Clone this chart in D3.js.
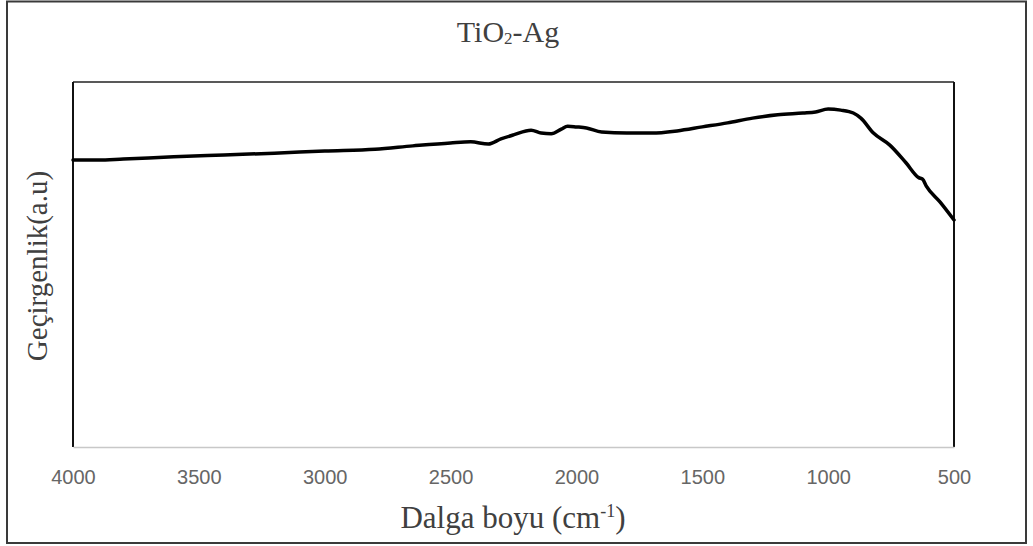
<!DOCTYPE html>
<html>
<head>
<meta charset="utf-8">
<script src="https://cdn.jsdelivr.net/npm/d3@7"></script>
<style>
  html, body { margin: 0; padding: 0; background: #fff; }
  svg { display: block; }
</style>
</head>
<body>
<svg id="chart" width="1033" height="546"></svg>
<script>
// ---- data ----
const wavenumbers = [4000, 3900, 3800, 3700, 3600, 3400, 3200, 3000, 2800, 2650, 2500, 2420, 2350, 2300, 2250, 2180, 2140, 2100, 2060, 2035, 2000, 1960, 1900, 1800, 1700, 1600, 1500, 1400, 1300, 1200, 1100, 1050, 1000, 950, 900, 870, 820, 755, 690, 640, 625, 610, 555, 500];
const transmittance = [78.6, 78.6, 78.9, 79.2, 79.5, 80.0, 80.5, 81.1, 81.6, 82.5, 83.3, 83.6, 83.0, 84.4, 85.5, 86.8, 86.0, 85.8, 87.1, 87.9, 87.7, 87.4, 86.3, 86.0, 86.0, 86.6, 87.7, 88.8, 90.1, 91.0, 91.5, 91.8, 92.6, 92.3, 91.5, 90.1, 86.0, 82.7, 77.8, 73.8, 73.4, 71.5, 67.1, 62.2];
const xTicks = [4000, 3500, 3000, 2500, 2000, 1500, 1000, 500];
const titleMain = "TiO";
const titleSub = "2";
const titleRest = "-Ag";
const xLabelMain = "Dalga boyu (cm";
const xLabelSup = "-1";
const yLabel = "Geçirgenlik(a.u)";

// ---- layout ----
const svg = d3.select("#chart");
const L = 73, R = 954, T = 82, B = 447;

const x = d3.scaleLinear().domain([4000, 500]).range([L, R]);
const y = d3.scaleLinear().domain([0, 100]).range([B, T]);

// outer border
svg.append("rect")
  .attr("x", 7).attr("y", 1.5).attr("width", 1019).attr("height", 541.5)
  .attr("fill", "none").attr("stroke", "#3a3a3a").attr("stroke-width", 2);

// plot frame
svg.append("line").attr("x1", L).attr("x2", R).attr("y1", T).attr("y2", T)
  .attr("stroke", "#222").attr("stroke-width", 1.5);
svg.append("line").attr("x1", L).attr("x2", L).attr("y1", T).attr("y2", B)
  .attr("stroke", "#111").attr("stroke-width", 2);
svg.append("line").attr("x1", R).attr("x2", R).attr("y1", T).attr("y2", B)
  .attr("stroke", "#111").attr("stroke-width", 2);

// x axis
const xAxis = d3.axisBottom(x).tickValues(xTicks).tickSize(0).tickPadding(0).tickFormat(d3.format("d"));
const gx = svg.append("g").attr("transform", `translate(0,${B})`).call(xAxis);
gx.select(".domain").attr("stroke", "#c8c8c8").attr("stroke-width", 1.5);
gx.selectAll("text")
  .attr("y", 37).attr("dy", 0)
  .attr("fill", "#666")
  .style("font-family", "'Liberation Sans', Arial, sans-serif")
  .style("font-size", "20px");

// line
const line = d3.line().x((d, i) => x(wavenumbers[i])).y(d => y(d)).curve(d3.curveMonotoneX);
svg.append("path")
  .datum(transmittance)
  .attr("d", line)
  .attr("fill", "none")
  .attr("stroke", "#000")
  .attr("stroke-width", 3.5)
  .attr("stroke-linejoin", "round")
  .attr("stroke-linecap", "round");

// title
const serif = "'Liberation Serif', 'Times New Roman', serif";
const title = svg.append("text")
  .attr("x", 508).attr("y", 42)
  .attr("text-anchor", "middle")
  .attr("fill", "#404040")
  .style("font-family", serif).style("font-size", "30px");
title.append("tspan").text(titleMain);
title.append("tspan").attr("font-size", "17px").attr("dy", 2).text(titleSub);
title.append("tspan").attr("dy", -2).text(titleRest);

// x label
const xl = svg.append("text")
  .attr("x", 513).attr("y", 528)
  .attr("text-anchor", "middle")
  .attr("fill", "#404040")
  .style("font-family", serif).style("font-size", "31px");
xl.append("tspan").text(xLabelMain);
xl.append("tspan").attr("font-size", "18px").attr("dy", -11).text(xLabelSup);
xl.append("tspan").attr("dy", 11).text(")");

// y label
svg.append("text")
  .attr("transform", `translate(47,266) rotate(-90)`)
  .attr("text-anchor", "middle")
  .attr("fill", "#404040")
  .style("font-family", serif).style("font-size", "29px")
  .text(yLabel);
</script>
</body>
</html>
